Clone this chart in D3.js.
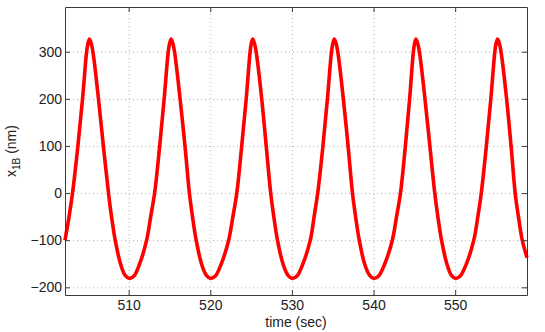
<!DOCTYPE html>
<html>
<head>
<meta charset="utf-8">
<script src="https://cdn.jsdelivr.net/npm/d3@7"></script>
<style>
  body { margin: 0; background: #fff; }
  svg { display: block; font-family: "Liberation Sans", Arial, Helvetica, sans-serif; }
  .grid line { stroke: #b4b4b4; stroke-dasharray: 1,3; }
  .grid path { display: none; }
  .axis path, .axis line { stroke: #3a3a3a; }
  .axis text { font-size: 14px; fill: #222; }
</style>
</head>
<body>
<div id="chart"></div>
<script>
// values
var timeSec = [
  502.2, 502.7, 503.12, 503.78, 504.35, 504.85, 505.02, 505.2, 505.45, 505.7,
  506.3, 506.9, 507.53, 507.9, 508.35, 509.0, 509.55, 510.1, 510.65, 511.35, 512.2, 512.7,
  513.18, 513.8, 514.35, 514.85, 515.02, 515.2, 515.45, 515.7,
  516.3, 516.9, 517.44, 517.82, 518.27, 518.92, 519.5, 520.05, 520.62, 521.35, 522.25, 522.77,
  523.25, 523.85, 524.4, 524.88, 525.03, 525.2, 525.45, 525.7,
  526.3, 526.85, 527.4, 527.78, 528.23, 528.9, 529.5, 530.05, 530.62, 531.35, 532.25, 532.72,
  533.16, 533.8, 534.35, 534.85, 535.02, 535.2, 535.45, 535.7,
  536.3, 536.88, 537.42, 537.8, 538.25, 538.9, 539.5, 540.05, 540.62, 541.38, 542.3, 542.82,
  543.3, 543.9, 544.42, 544.88, 545.03, 545.2, 545.45, 545.7,
  546.3, 546.9, 547.5, 547.88, 548.33, 548.98, 549.52, 550.05, 550.62, 551.38, 552.28, 552.78,
  553.2, 553.82, 554.37, 554.86, 555.02, 555.2, 555.45, 555.7,
  556.3, 556.85, 557.35, 557.75, 558.22, 558.8
];
var x1B = [
  -100, -50, 0, 100, 200, 300, 318, 327, 315, 290,
  200, 100, 0, -50, -100, -150, -174, -181, -176, -150, -100, -50,
  0, 100, 200, 300, 318, 327, 315, 290,
  200, 100, 0, -50, -100, -150, -174, -181, -176, -150, -100, -50,
  0, 100, 200, 300, 318, 327, 315, 290,
  200, 100, 0, -50, -100, -150, -174, -181, -176, -150, -100, -50,
  0, 100, 200, 300, 318, 327, 315, 290,
  200, 100, 0, -50, -100, -150, -174, -181, -176, -150, -100, -50,
  0, 100, 200, 300, 318, 327, 315, 290,
  200, 100, 0, -50, -100, -150, -174, -181, -176, -150, -100, -50,
  0, 100, 200, 300, 318, 327, 315, 290,
  200, 100, 0, -50, -100, -137
];
var xTicks = [510, 520, 530, 540, 550];
var yTicks = [-200, -100, 0, 100, 200, 300];
var xDomain = [502.2, 558.8];
var yDomain = [-216.3, 394.9];

var margin = { top: 7, right: 18, bottom: 37, left: 65 },
  width = 545 - margin.left - margin.right,
  height = 332 - margin.top - margin.bottom;

var data = timeSec.map(function(t, i) { return { t: t, v: x1B[i] }; });

var x = d3.scaleLinear().domain(xDomain).range([0, width]);
var y = d3.scaleLinear().domain(yDomain).range([height, 0]);

var svg = d3.select("#chart").append("svg")
  .attr("width", 545)
  .attr("height", 332)
  .append("g")
    .attr("transform", "translate(" + margin.left + "," + margin.top + ")");

// dotted grid
svg.append("g")
  .attr("class", "grid")
  .attr("transform", "translate(0," + height + ")")
  .call(d3.axisBottom(x).tickValues(xTicks).tickSize(-height).tickFormat(""));
svg.append("g")
  .attr("class", "grid")
  .call(d3.axisLeft(y).tickValues(yTicks).tickSize(-width).tickFormat(""));

// the signal
var line = d3.line()
  .x(function(d) { return x(d.t); })
  .y(function(d) { return y(d.v); })
  .curve(d3.curveCatmullRom.alpha(0.5));

svg.append("path")
  .datum(data)
  .attr("fill", "none")
  .attr("stroke", "#ff0000")
  .attr("stroke-width", 3.6)
  .attr("stroke-linejoin", "round")
  .attr("d", line);

// box with inward ticks
svg.append("g")
  .attr("class", "axis")
  .attr("transform", "translate(0," + height + ")")
  .call(d3.axisBottom(x).tickValues(xTicks).tickSizeInner(-5).tickSizeOuter(0).tickPadding(5));
svg.append("g")
  .attr("class", "axis")
  .call(d3.axisTop(x).tickValues(xTicks).tickSizeInner(-5).tickSizeOuter(0).tickFormat(""));
svg.append("g")
  .attr("class", "axis")
  .call(d3.axisLeft(y).tickValues(yTicks).tickSizeInner(-5).tickSizeOuter(0).tickPadding(3));
svg.append("g")
  .attr("class", "axis")
  .attr("transform", "translate(" + width + ",0)")
  .call(d3.axisRight(y).tickValues(yTicks).tickSizeInner(-5).tickSizeOuter(0).tickFormat(""));

// labels
svg.append("text")
  .attr("x", width / 2)
  .attr("y", height + 32)
  .style("text-anchor", "middle")
  .style("font-size", "14px")
  .style("fill", "#222")
  .text("time (sec)");

var yl = svg.append("text")
  .attr("transform", "translate(" + (16 - margin.left) + "," + (height / 2) + ") rotate(-90)")
  .style("text-anchor", "middle")
  .style("font-size", "14px")
  .style("fill", "#222");
yl.append("tspan").text("x");
yl.append("tspan").attr("dy", 4).style("font-size", "10px").text("1B");
yl.append("tspan").attr("dy", -4).text(" (nm)");
</script>
</body>
</html>
